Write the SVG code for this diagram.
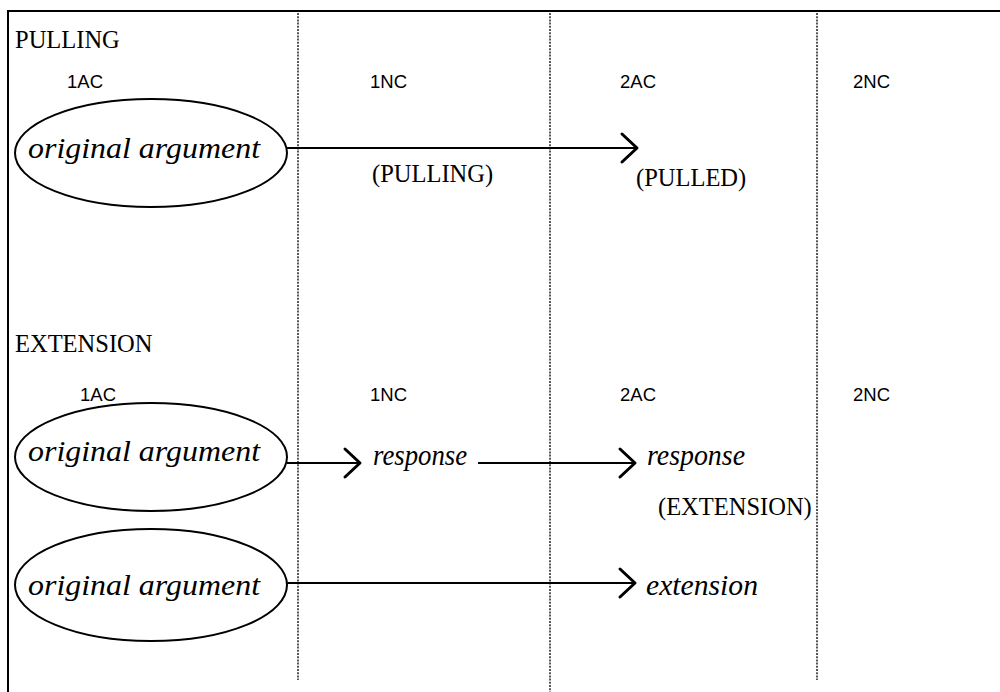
<svg xmlns="http://www.w3.org/2000/svg" width="1000" height="692" viewBox="0 0 1000 692">
  <defs>
    <marker id="chev" markerUnits="userSpaceOnUse" markerWidth="24" markerHeight="34" viewBox="0 0 24 34" refX="19" refY="17" orient="auto">
      <path d="M4,3 L19,17 L4,31" fill="none" stroke="#000" stroke-width="3" stroke-linecap="round" stroke-linejoin="round"/>
    </marker>
    <style>
      .frame { stroke: #000; stroke-width: 2; fill: none; }
      .dot { stroke: #111; stroke-width: 1.4; stroke-dasharray: 2 1.2; fill: none; }
      .ell { fill: none; stroke: #000; stroke-width: 2; }
      .conn { stroke: #000; stroke-width: 2; fill: none; marker-end: url(#chev); }
      .serif { font-family: "Liberation Serif", "Times New Roman", serif; font-size: 24.5px; fill: #000; }
      .sans { font-family: "Liberation Sans", Arial, sans-serif; font-size: 18.5px; fill: #000; }
      .script { font-family: "Liberation Serif", "DejaVu Serif", serif; font-style: italic; font-size: 30px; fill: #000; }
    </style>
  </defs>
  <rect width="1000" height="692" fill="#fff"/>

  <g id="frame">
    <line class="frame" x1="8" y1="11" x2="1000" y2="11"/>
    <line class="frame" x1="8" y1="10" x2="8" y2="692"/>
    <line class="dot" x1="298" y1="13" x2="298" y2="680"/>
    <line class="dot" x1="550" y1="13" x2="550" y2="692"/>
    <line class="dot" x1="817" y1="13" x2="817" y2="680"/>
  </g>

  <g id="labels">
    <text class="serif" x="15" y="48">PULLING</text>
    <text class="sans" x="67" y="88">1AC</text>
    <text class="sans" x="370" y="88">1NC</text>
    <text class="sans" x="620" y="88">2AC</text>
    <text class="sans" x="853" y="88">2NC</text>
    <text class="serif" x="372" y="182">(PULLING)</text>
    <text class="serif" x="636" y="186">(PULLED)</text>

    <text class="serif" x="15" y="352">EXTENSION</text>
    <text class="sans" x="80" y="401">1AC</text>
    <text class="sans" x="370" y="401">1NC</text>
    <text class="sans" x="620" y="401">2AC</text>
    <text class="sans" x="853" y="401">2NC</text>
    <text class="serif" x="658" y="515">(EXTENSION)</text>
  </g>

  <g id="node-pull-original">
    <ellipse class="ell" cx="151" cy="153" rx="136" ry="54"/>
    <text class="script" x="28" y="158" textLength="232" lengthAdjust="spacingAndGlyphs">original argument</text>
  </g>

  <g id="node-ext-original1">
    <ellipse class="ell" cx="151" cy="457" rx="136" ry="54"/>
    <text class="script" x="28" y="461" textLength="232" lengthAdjust="spacingAndGlyphs">original argument</text>
  </g>

  <g id="node-ext-original2">
    <ellipse class="ell" cx="151" cy="585" rx="136" ry="56"/>
    <text class="script" x="28" y="595" textLength="232" lengthAdjust="spacingAndGlyphs">original argument</text>
  </g>

  <g id="node-response1">
    <text class="script" x="373" y="465" textLength="94" lengthAdjust="spacingAndGlyphs">response</text>
  </g>

  <g id="node-response2">
    <text class="script" x="647" y="465" textLength="98" lengthAdjust="spacingAndGlyphs">response</text>
  </g>

  <g id="node-extension">
    <text class="script" x="646" y="595" textLength="112" lengthAdjust="spacingAndGlyphs">extension</text>
  </g>

  <g id="connectors">
    <line class="conn" x1="287" y1="148" x2="637" y2="148"/>
    <line class="conn" x1="287" y1="463" x2="360" y2="463"/>
    <line class="conn" x1="478" y1="463" x2="635" y2="463"/>
    <line class="conn" x1="287" y1="583" x2="635" y2="583"/>
  </g>
</svg>
